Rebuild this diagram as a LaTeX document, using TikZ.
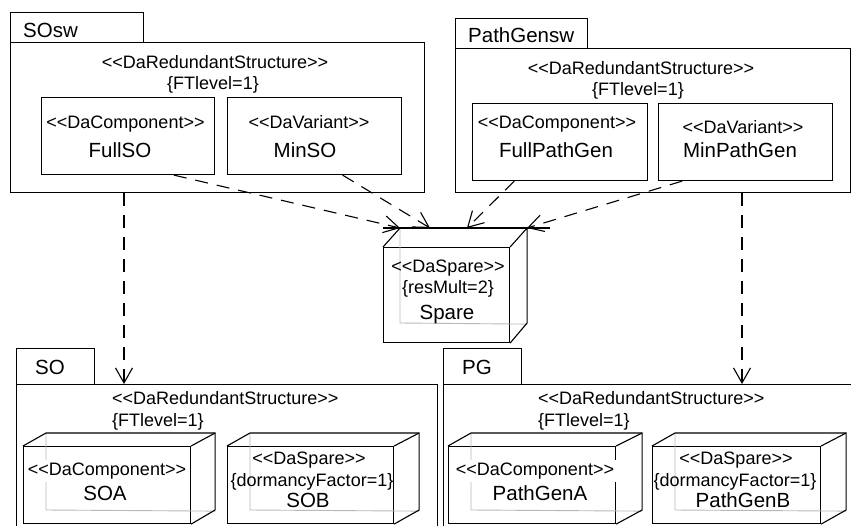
\documentclass[tikz,border=0pt]{standalone}
\usepackage{fontspec}
\newfontfamily\umlfont{Liberation Sans}
\usetikzlibrary{arrows.meta,calc}
\newcommand\cubebox[8]{%
  \draw[hidden] ($(#1.north west)+(#6,#8)$) -- ++(0,#5) -- ($(#1.south east)+(#7,#8)$);
  \draw[edge] (#1.north west) -- ++(#6,#8) -- ($(#1.north east)+(#7,#8)$) -- ++(0,#5) -- (#1.south east);
  \draw[edge] (#1.north east) -- ++(#7,#8);
}
\begin{document}
\begin{tikzpicture}[x=1pt,y=-1pt,
  edge/.style={line width=1.1pt, line join=miter},
  pkg/.style={draw, line width=1.1pt, inner sep=0pt, anchor=north west},
  hidden/.style={draw=black!28, line width=0.9pt},
  st/.style={inner sep=0pt, anchor=base, font=\umlfont\fontsize{18}{20}\selectfont},
  nm/.style={inner sep=0pt, anchor=base, font=\umlfont\fontsize{20.5}{23}\selectfont},
  dep/.style={line width=1.1pt, dash pattern=on 13pt off 9pt, -{Straight Barb[length=15pt,width=17pt]}},
  cover/.style={fill=white, inner xsep=4pt, inner ysep=3pt}
]
\useasboundingbox (0,0) rectangle (851,525);
\clip (0,0) rectangle (851,525);

% ---------- SOsw package ----------
\node[pkg, minimum width=133, minimum height=30] (SOswTab) at (10,12) {};
\node[pkg, minimum width=414, minimum height=150] (SOswBody) at (10,42) {};
\node[nm, anchor=base west] (SOswName) at (23,37.3) {SOsw};
\node[st] (SOswSt) at (215,68.5) {<<DaRedundantStructure>>};
\node[st] (SOswFT) at (213,89.5) {\{FTlevel=1\}};
\node[pkg, minimum width=173, minimum height=77] (FullSO) at (41,97) {};
\node[st] (FullSOst) at (125.5,128.5) {<<DaComponent>>};
\node[nm] (FullSOnm) at (120,157) {FullSO};
\node[pkg, minimum width=174, minimum height=77] (MinSO) at (227,97) {};
\node[st] (MinSOst) at (309,128.5) {<<DaVariant>>};
\node[nm] (MinSOnm) at (305,157) {MinSO};

% ---------- PathGensw package ----------
\node[pkg, minimum width=132, minimum height=30] (PGswTab) at (455,18) {};
\node[pkg, minimum width=394.5, minimum height=144] (PGswBody) at (455,48) {};
\node[nm, anchor=base west] (PGswName) at (468,42.3) {PathGensw};
\node[st] (PGswSt) at (641,74.5) {<<DaRedundantStructure>>};
\node[st] (PGswFT) at (638,95.5) {\{FTlevel=1\}};
\node[pkg, minimum width=175, minimum height=77] (FullPG) at (472,103) {};
\node[st] (FullPGst) at (557,128.5) {<<DaComponent>>};
\node[nm] (FullPGnm) at (556,157) {FullPathGen};
\node[pkg, minimum width=174, minimum height=77] (MinPG) at (658,103) {};
\node[st] (MinPGst) at (743,133.5) {<<DaVariant>>};
\node[nm] (MinPGnm) at (740,157) {MinPathGen};

% ---------- Spare node ----------
\node[pkg, minimum width=126, minimum height=95] (Spare) at (383,247) {};
\coordinate (SpTL) at ($(Spare.north west)+(17,-19)$);
\coordinate (SpTR) at ($(Spare.north east)+(17,-19)$);
\coordinate (SpIn2) at ($(SpTL)+(30,0)$);
\coordinate (SpIn3) at ($(SpTL)+(67,0)$);
\draw[hidden] (SpTL) -- ++(0,95) -- ($(Spare.south east)+(17,-19)$);
\draw[edge] ($(Spare.north west)+(0,-19)$) -- ++(167,0);
\draw[edge] (Spare.north west) -- (SpTL);
\draw[edge] (Spare.north east) -- (SpTR) -- ++(0,95) -- (Spare.south east);
\node[st] (Sparest) at (448,272.5) {<<DaSpare>>};
\node[st] (Sparetag) at (448,293.5) {\{resMult=2\}};
\node[nm] (Sparenm) at (447,319.3) {Spare};

% ---------- SO package ----------
\node[pkg, minimum width=78, minimum height=36] (SOTab) at (16,348) {};
\node[pkg, minimum width=421, minimum height=200] (SOBody) at (16,384) {};
\node[nm, anchor=base west] (SOName) at (35,374.3) {SO};
\node[st, anchor=base west] (SOSt) at (112,404.5) {<<DaRedundantStructure>>};
\node[st, anchor=base west] (SOFT) at (112,426.5) {\{FTlevel=1\}};

\node[pkg, minimum width=167, minimum height=77] (SOA) at (23,446) {};
\cubebox{SOA}{23}{446}{167}{77}{23}{24}{-13}
\node[st, cover] (SOAst) at (107,475.5) {<<DaComponent>>};
\node[nm] (SOAnm) at (105,500.3) {SOA};

\node[pkg, minimum width=166, minimum height=77] (SOB) at (227,446) {};
\cubebox{SOB}{227}{446}{166}{77}{23}{25}{-13}
\node[st] (SOBst) at (309,464.5) {<<DaSpare>>};
\node[st] (SOBtag) at (312,486.5) {\{dormancyFactor=1\}};
\node[nm] (SOBnm) at (308,507.3) {SOB};

% ---------- PG package ----------
\node[pkg, minimum width=78, minimum height=36] (PGTab) at (443,348) {};
\node[pkg, minimum width=450, minimum height=200] (PGBody) at (443,384) {};
\node[nm, anchor=base west] (PGName) at (462,374.3) {PG};
\node[st, anchor=base west] (PGSt) at (538,404.5) {<<DaRedundantStructure>>};
\node[st, anchor=base west] (PGFT) at (538,426.5) {\{FTlevel=1\}};

\node[pkg, minimum width=167, minimum height=77] (PGA) at (448,446) {};
\cubebox{PGA}{448}{446}{167}{77}{23}{26}{-13}
\node[st, cover] (PGAst) at (535,475.5) {<<DaComponent>>};
\node[nm] (PGAnm) at (540,500.3) {PathGenA};

\node[pkg, minimum width=168, minimum height=77] (PGB) at (652,446) {};
\cubebox{PGB}{652}{446}{168}{77}{23}{25}{-13}
\node[st] (PGBst) at (736,464.5) {<<DaSpare>>};
\node[st] (PGBtag) at (735,486.5) {\{dormancyFactor=1\}};
\node[nm] (PGBnm) at (743,507.3) {PathGenB};

% ---------- dependencies ----------
\draw[dep] ($(FullSO.south west)!0.763!(FullSO.south east)$) -- (SpTL);
\draw[dep] ($(MinSO.south west)!0.66!(MinSO.south east)$) -- (SpIn2);
\draw[dep] ($(FullPG.south west)!0.24!(FullPG.south east)$) -- (SpIn3);
\draw[dep] ($(MinPG.south west)!0.138!(MinPG.south east)$) -- (SpTR);
\coordinate (d1) at ($(SOswBody.south west)+(114,0)$);
\coordinate (d2) at ($(PGswBody.south west)+(287,0)$);
\draw[dep] (d1) -- (d1 |- SOBody.north);
\draw[dep] (d2) -- (d2 |- PGBody.north);
\end{tikzpicture}
\end{document}
